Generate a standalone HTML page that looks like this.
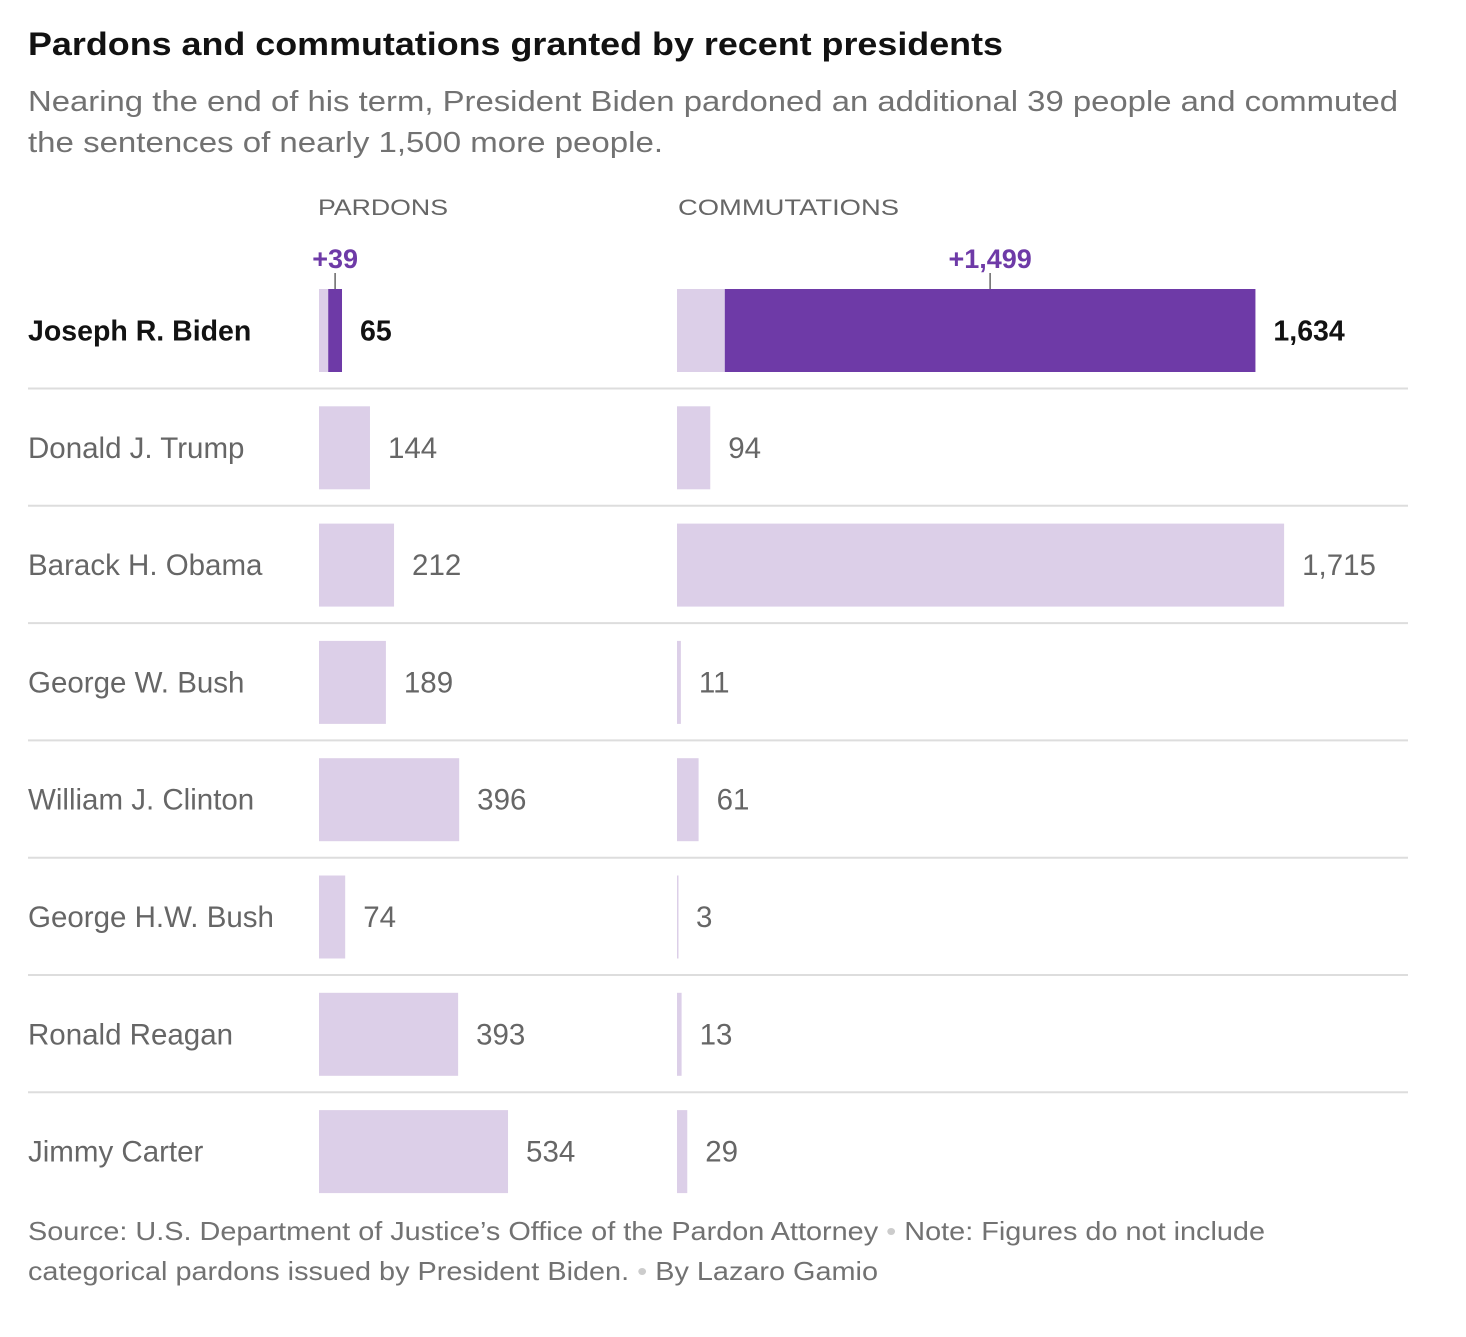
<!DOCTYPE html>
<html><head><meta charset="utf-8"><style>
body{margin:0;background:#fff;width:1466px;height:1332px;overflow:hidden;font-family:"Liberation Sans",sans-serif}
svg text{font-family:"Liberation Sans",sans-serif}
</style></head><body>
<svg width="1466" height="1332">
<text x="28" y="55" font-size="32" font-weight="bold" fill="#121212" textLength="975" lengthAdjust="spacingAndGlyphs">Pardons and commutations granted by recent presidents</text>
<text x="28" y="111" font-size="29" fill="#727272" textLength="1370" lengthAdjust="spacingAndGlyphs">Nearing the end of his term, President Biden pardoned an additional 39 people and commuted</text>
<text x="28" y="152" font-size="29" fill="#727272" textLength="635" lengthAdjust="spacingAndGlyphs">the sentences of nearly 1,500 more people.</text>
<text x="318" y="215" font-size="22" fill="#666" textLength="130" lengthAdjust="spacingAndGlyphs">PARDONS</text>
<text x="678" y="215" font-size="22" fill="#666" textLength="221" lengthAdjust="spacingAndGlyphs">COMMUTATIONS</text>
<g id="rows"></g>
<text x="28" y="1240" font-size="26" fill="#727272" textLength="1237" lengthAdjust="spacingAndGlyphs">Source: U.S. Department of Justice’s Office of the Pardon Attorney <tspan fill="#ccc">•</tspan> Note: Figures do not include</text>
<text x="28" y="1280" font-size="26" fill="#727272" textLength="850" lengthAdjust="spacingAndGlyphs">categorical pardons issued by President Biden. <tspan fill="#ccc">•</tspan> By Lazaro Gamio</text>
</svg>
<script>
const presidents=["Joseph R. Biden","Donald J. Trump","Barack H. Obama","George W. Bush","William J. Clinton","George H.W. Bush","Ronald Reagan","Jimmy Carter"];
const pardons=[65,144,212,189,396,74,393,534];
const commutations=[1634,94,1715,11,61,3,13,29];
const newPardons=[39,0,0,0,0,0,0,0];
const newCommutations=[1499,0,0,0,0,0,0,0];
const NS="http://www.w3.org/2000/svg";
const g=document.getElementById('rows');
const scale=v=>v*0.354;
const px0=319,cx0=677,top0=289,step=117.3,bh=83;
function mk(tag,attrs,txt){const e=document.createElementNS(NS,tag);for(const k in attrs)e.setAttribute(k,attrs[k]);if(txt!==undefined)e.textContent=txt;g.appendChild(e);return e;}
presidents.forEach((p,i)=>{
  const y=top0+i*step, mid=y+bh/2+10, bold=i===0;
  const col=bold?"#121212":"#666";
  const fs=bold?28.5:29.5;
  const t=mk('text',{x:28,y:mid,'font-size':fs,fill:col,'font-weight':bold?'bold':'normal'},p);
  
  
  [[px0,pardons[i],newPardons[i],'pardon'],[cx0,commutations[i],newCommutations[i],'commutation']].forEach(([x0,v,nv,nm])=>{
    const old=v-nv;
    const r=mk('rect',{x:x0,y:y,width:Math.max(scale(old),1.5),height:bh,fill:'#dccfe8'});
    
    
    if(nv>0){
      const r2=mk('rect',{x:x0+scale(old),y:y,width:scale(nv),height:bh,fill:'#6e3aa7'});
      
      
      const cxm=x0+scale(old)+scale(nv)/2;
      const ln=mk('line',{x1:cxm,x2:cxm,y1:y-16,y2:y,stroke:'#666','stroke-width':1.5});
      
      
      const at=mk('text',{x:cxm,y:y-21,'font-size':27,'font-weight':'bold',fill:'#6e3aa7','text-anchor':'middle'},'+'+nv.toLocaleString('en-US'));
      
      
    }
    const vl=mk('text',{x:x0+scale(v)+18,y:mid,'font-size':fs,fill:col,'font-weight':bold?'bold':'normal'},v.toLocaleString('en-US'));
    
    
  });
  if(i<presidents.length-1){
    const s=mk('line',{x1:28,x2:1408,y1:y+bh+16.5,y2:y+bh+16.5,stroke:'#ddd','stroke-width':2});
    
    
  }
});
</script>
</body></html>
